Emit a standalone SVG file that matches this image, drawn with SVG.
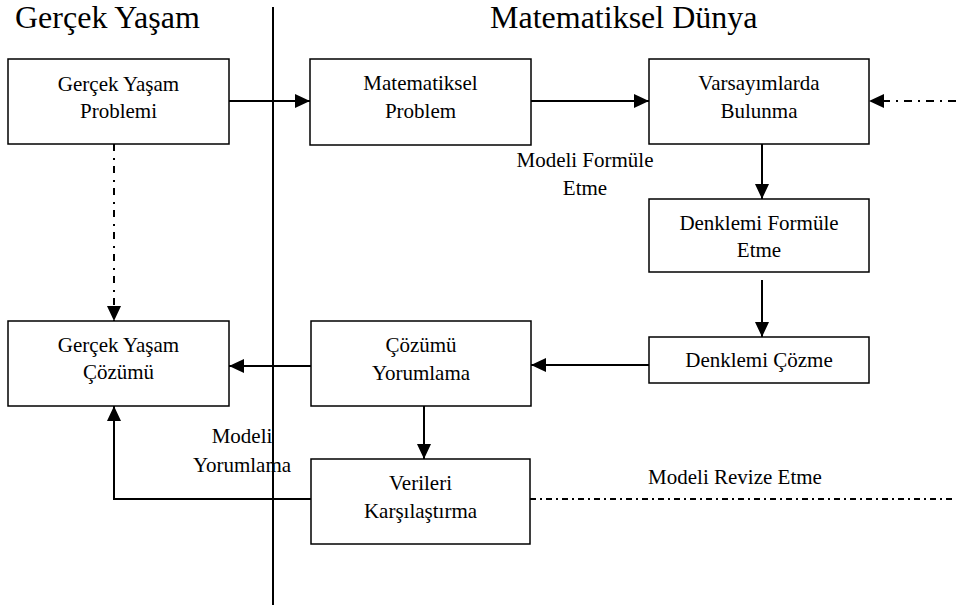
<svg xmlns="http://www.w3.org/2000/svg" width="956" height="605" viewBox="0 0 956 605">
  <style>
    .box { fill: #ffffff; stroke: #000000; stroke-width: 1.5; }
    .lbl { font-family: "Liberation Serif", "Times New Roman", serif; font-size: 21px; fill: #000000; text-anchor: middle; }
    .title { font-family: "Liberation Serif", "Times New Roman", serif; font-size: 32px; fill: #000000; }
    .line { fill: none; stroke: #000000; stroke-width: 2; }
    .dd-v { stroke-dasharray: 7 7 2 6; }
    .dd-h { stroke-dasharray: 6 4 2 4; }
    .dd-r { stroke-dasharray: 8 6 2 6; }
  </style>
  <defs>
    <marker id="arrow" markerUnits="userSpaceOnUse" markerWidth="15" markerHeight="14" refX="15" refY="7" orient="auto">
      <path d="M0,0 L15,7 L0,14 Z" fill="#000000"/>
    </marker>
  </defs>

  <rect width="956" height="605" fill="#ffffff"/>

  <!-- section headings and divider -->
  <text class="title" x="15" y="28">Gerçek Yaşam</text>
  <text class="title" x="490" y="28">Matematiksel Dünya</text>
  <line class="line" x1="273" y1="7" x2="273" y2="605"/>

  <!-- connectors -->
  <g id="connectors">
    <line class="line" x1="229" y1="101" x2="310" y2="101" marker-end="url(#arrow)"/>
    <line class="line" x1="531" y1="101" x2="649" y2="101" marker-end="url(#arrow)"/>
    <line class="line dd-r" x1="956" y1="101" x2="869" y2="101" marker-end="url(#arrow)"/>
    <line class="line" x1="762" y1="144" x2="762" y2="199" marker-end="url(#arrow)"/>
    <line class="line" x1="762" y1="280" x2="762" y2="337" marker-end="url(#arrow)"/>
    <line class="line" x1="649" y1="365" x2="531" y2="365" marker-end="url(#arrow)"/>
    <line class="line" x1="311" y1="366" x2="229" y2="366" marker-end="url(#arrow)"/>
    <line class="line dd-v" x1="114" y1="144" x2="114" y2="321" marker-end="url(#arrow)"/>
    <line class="line" x1="424" y1="406" x2="424" y2="459" marker-end="url(#arrow)"/>
    <polyline class="line" points="311,499 114,499 114,406" marker-end="url(#arrow)"/>
    <line class="line dd-h" x1="530" y1="499" x2="956" y2="499"/>
  </g>

  <!-- connector labels -->
  <text class="lbl" x="585" y="167">Modeli Formüle</text>
  <text class="lbl" x="585" y="195">Etme</text>
  <text class="lbl" x="242" y="443">Modeli</text>
  <text class="lbl" x="242" y="472">Yorumlama</text>
  <text class="lbl" x="735" y="484">Modeli Revize Etme</text>

  <!-- nodes -->
  <g id="gercek-yasam-problemi">
    <rect class="box" x="8" y="59" width="221" height="85"/>
    <text class="lbl" x="118.5" y="91">Gerçek Yaşam</text>
    <text class="lbl" x="118.5" y="118">Problemi</text>
  </g>
  <g id="matematiksel-problem">
    <rect class="box" x="310" y="59" width="221" height="86"/>
    <text class="lbl" x="420.5" y="90">Matematiksel</text>
    <text class="lbl" x="420.5" y="118">Problem</text>
  </g>
  <g id="varsayimlarda-bulunma">
    <rect class="box" x="649" y="59" width="220" height="85"/>
    <text class="lbl" x="759" y="90">Varsayımlarda</text>
    <text class="lbl" x="759" y="118">Bulunma</text>
  </g>
  <g id="denklemi-formule-etme">
    <rect class="box" x="649" y="199" width="220" height="73"/>
    <text class="lbl" x="759" y="230">Denklemi Formüle</text>
    <text class="lbl" x="759" y="257">Etme</text>
  </g>
  <g id="denklemi-cozme">
    <rect class="box" x="649" y="337" width="220" height="46"/>
    <text class="lbl" x="759" y="367">Denklemi Çözme</text>
  </g>
  <g id="cozumu-yorumlama">
    <rect class="box" x="311" y="321" width="220" height="85"/>
    <text class="lbl" x="421" y="352">Çözümü</text>
    <text class="lbl" x="421" y="380">Yorumlama</text>
  </g>
  <g id="gercek-yasam-cozumu">
    <rect class="box" x="8" y="321" width="221" height="85"/>
    <text class="lbl" x="118.5" y="352">Gerçek Yaşam</text>
    <text class="lbl" x="118.5" y="379">Çözümü</text>
  </g>
  <g id="verileri-karsilastirma">
    <rect class="box" x="311" y="459" width="219" height="85"/>
    <text class="lbl" x="420.5" y="490">Verileri</text>
    <text class="lbl" x="420.5" y="518">Karşılaştırma</text>
  </g>
</svg>
